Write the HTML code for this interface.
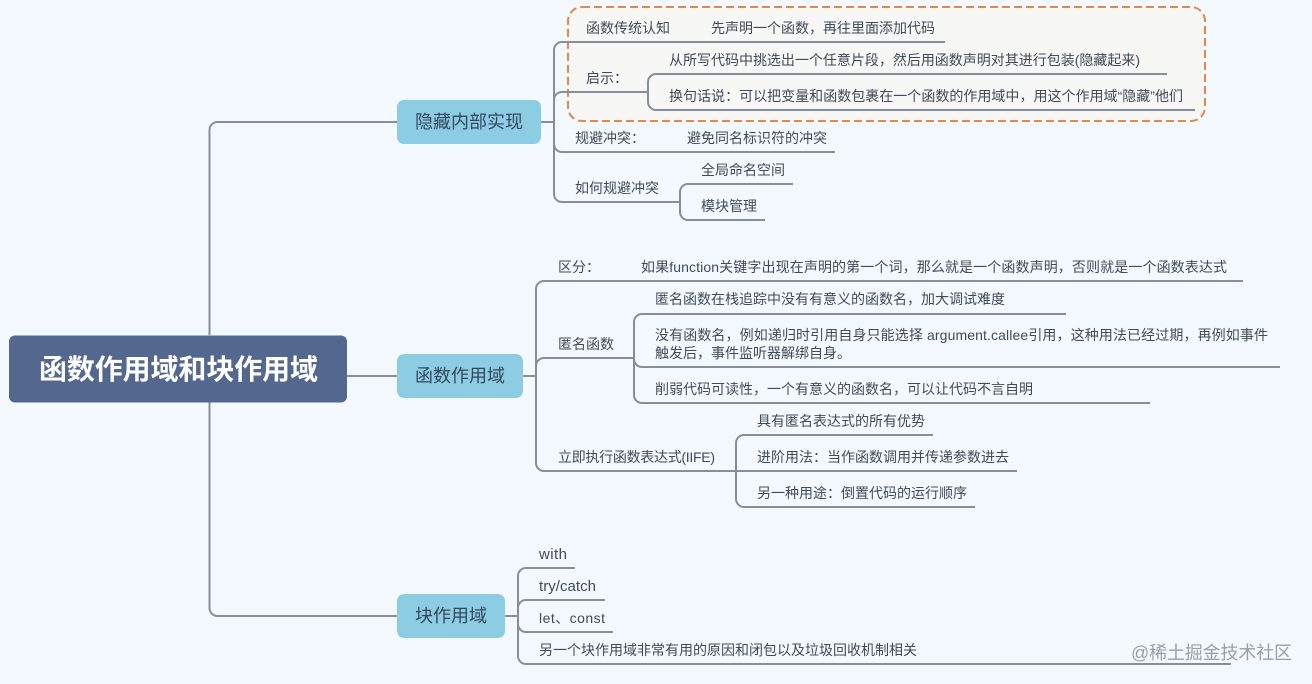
<!DOCTYPE html>
<html lang="zh"><head><meta charset="utf-8"><title>函数作用域和块作用域</title>
<style>
html,body{margin:0;padding:0;background:#f4f9ff;width:1312px;height:684px;overflow:hidden}
svg{display:block;filter:blur(.35px)}
text{font-family:"Liberation Sans","Noto Sans CJK SC",sans-serif;font-size:14px;fill:#414a58;}
.l{fill:none;stroke:#878d9b;stroke-width:2}
.b{font-size:18px;fill:#33475f}
.e{font-size:15px}
</style></head><body>
<svg width="1312" height="684" viewBox="0 0 1312 684" xmlns="http://www.w3.org/2000/svg">
<rect width="1312" height="684" fill="#f4f9ff"/>
<!-- highlight -->
<rect x="568" y="7" width="637" height="114" rx="14" fill="#f7f7f5" stroke="#e8864a" stroke-width="2" stroke-dasharray="8 4"/>
<!-- trunk -->
<path class="l" d="M209.500 335V130a8 8 0 0 1 8-8H397M209.500 402V608a8 8 0 0 0 8 8H397M347 376H397"/>
<!-- branch 1 -->
<path class="l" d="M541 122H554M554 194V50a8 8 0 0 1 8-8H945M554 100a8 8 0 0 1 8-8H648M554 144a8 8 0 0 0 8 8H835M554 194a8 8 0 0 0 8 8H680"/>
<path class="l" d="M648 102V82a8 8 0 0 1 8-8H1167M648 102a8 8 0 0 0 8 8H1195"/>
<path class="l" d="M680 212V192a8 8 0 0 1 8-8H793M680 212a8 8 0 0 0 8 8H765"/>
<!-- branch 2 -->
<path class="l" d="M523 376H536M536 463V289a8 8 0 0 1 8-8H1243M536 366a8 8 0 0 1 8-8H634M536 463a8 8 0 0 0 8 8H736"/>
<path class="l" d="M634 395V322a8 8 0 0 1 8-8H1066M634 359a8 8 0 0 0 8 8H1280M634 395a8 8 0 0 0 8 8H1150"/>
<path class="l" d="M736 499V443a8 8 0 0 1 8-8H933M736 471H1017M736 499a8 8 0 0 0 8 8H975"/>
<!-- branch 3 -->
<path class="l" d="M505 616H518M518 656V576a8 8 0 0 1 8-8H575M518 608a8 8 0 0 1 8-8H605M518 624a8 8 0 0 0 8 8H613M518 656a8 8 0 0 0 8 8H1231"/>
<!-- nodes -->
<rect x="9" y="335.500" width="338" height="67" rx="6" fill="#54688f"/>
<text x="39" y="379" textLength="279" style="font-size:28px;fill:#fff;font-weight:700">函数作用域和块作用域</text>
<rect x="397" y="100" width="144" height="44" rx="7" fill="#8dcde4"/>
<text class="b" x="415" y="128">隐藏内部实现</text>
<rect x="397" y="354" width="126" height="44" rx="7" fill="#8dcde4"/>
<text class="b" x="415" y="382">函数作用域</text>
<rect x="397" y="594" width="108" height="44" rx="7" fill="#8dcde4"/>
<text class="b" x="415" y="622">块作用域</text>
<!-- branch 1 text -->
<text x="586" y="33">函数传统认知</text>
<text x="711" y="33">先声明一个函数，再往里面添加代码</text>
<text x="586" y="83">启示：</text>
<text x="669" y="65" textLength="471">从所写代码中挑选出一个任意片段，然后用函数声明对其进行包装(隐藏起来)</text>
<text x="669" y="101" textLength="514">换句话说：可以把变量和函数包裹在一个函数的作用域中，用这个作用域“隐藏”他们</text>
<text x="575" y="143">规避冲突：</text>
<text x="687" y="143">避免同名标识符的冲突</text>
<text x="575" y="193">如何规避冲突</text>
<text x="701" y="175">全局命名空间</text>
<text x="701" y="211">模块管理</text>
<!-- branch 2 text -->
<text x="558" y="272">区分：</text>
<text x="641" y="272" textLength="586">如果function关键字出现在声明的第一个词，那么就是一个函数声明，否则就是一个函数表达式</text>
<text x="558" y="349">匿名函数</text>
<text x="655" y="304">匿名函数在栈追踪中没有有意义的函数名，加大调试难度</text>
<text x="655" y="340" textLength="613">没有函数名，例如递归时引用自身只能选择 argument.callee引用，这种用法已经过期，再例如事件</text>
<text x="655" y="358">触发后，事件监听器解绑自身。</text>
<text x="655" y="394">削弱代码可读性，一个有意义的函数名，可以让代码不言自明</text>
<text x="558" y="462" textLength="157">立即执行函数表达式(IIFE)</text>
<text x="757" y="426">具有匿名表达式的所有优势</text>
<text x="757" y="462">进阶用法：当作函数调用并传递参数进去</text>
<text x="757" y="498">另一种用途：倒置代码的运行顺序</text>
<!-- branch 3 text -->
<text class="e" x="539" y="559" textLength="28">with</text>
<text class="e" x="539" y="591" textLength="57">try/catch</text>
<text x="539" y="623" textLength="66">let、const</text>
<text x="539" y="655">另一个块作用域非常有用的原因和闭包以及垃圾回收机制相关</text>
<!-- watermark -->
<text x="1131" y="659" style="font-size:18px;fill:#9a9ea6" textLength="161">@稀土掘金技术社区</text>
</svg>
</body></html>
